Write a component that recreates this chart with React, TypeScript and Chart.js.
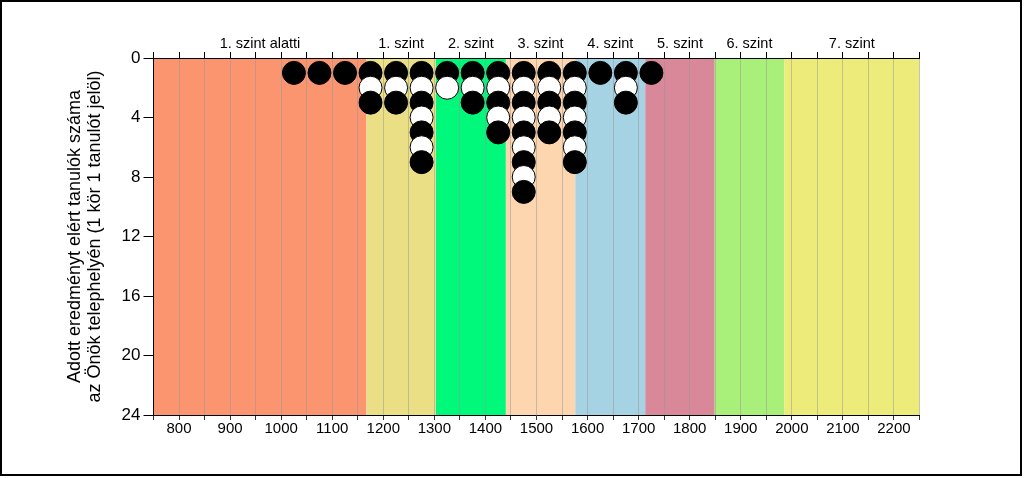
import React, { useEffect, useRef } from "react";
import { Chart, registerables } from "chart.js";

Chart.register(...registerables);

// ---- data ----
const bandEdges = [750, 1167, 1303, 1440, 1576, 1713, 1849, 1985, 2250];
const bandLabels = [
  "1. szint alatti",
  "1. szint",
  "2. szint",
  "3. szint",
  "4. szint",
  "5. szint",
  "6. szint",
  "7. szint",
];
const binCenters = [1025, 1075, 1125, 1175, 1225, 1275, 1325, 1375, 1425, 1475, 1525, 1575, 1625, 1675, 1725];
const studentCounts = [1, 1, 1, 3, 3, 7, 2, 3, 5, 9, 5, 7, 1, 3, 1];
const yTitle = ["Adott eredményt elért tanulók száma", "az Önök telephelyén (1 kör 1 tanulót jelöl)"];

// ---- styles ----
const bandColors = ["#FA9570", "#EADF85", "#00F97A", "#FDD5AE", "#A6D3E3", "#D9889A", "#A8F07A", "#EDEC7A"];
const FONT = "Arial, 'Liberation Sans', sans-serif";

const bandsPlugin = {
  id: "bands",
  beforeDraw(chart: any) {
    const { ctx, chartArea, scales } = chart;
    const xs = scales.x;
    ctx.save();
    for (let i = 0; i < bandColors.length; i++) {
      const x0 = xs.getPixelForValue(bandEdges[i]);
      const x1 = xs.getPixelForValue(bandEdges[i + 1]);
      ctx.fillStyle = bandColors[i];
      ctx.fillRect(x0, chartArea.top, x1 - x0, chartArea.bottom - chartArea.top);
    }
    ctx.restore();
  },
  afterDraw(chart: any) {
    const { ctx, chartArea, scales } = chart;
    const xs = scales.x;
    ctx.save();
    ctx.fillStyle = "#000";
    ctx.font = `14.5px ${FONT}`;
    ctx.textAlign = "center";
    ctx.textBaseline = "middle";
    for (let i = 0; i < bandLabels.length; i++) {
      const mid = (bandEdges[i] + bandEdges[i + 1]) / 2;
      ctx.fillText(bandLabels[i], xs.getPixelForValue(mid), chartArea.top - 14);
    }
    ctx.restore();
  },
};

export default function App() {
  const ref = useRef<HTMLCanvasElement | null>(null);

  useEffect(() => {
    document.body.style.margin = "0";
    const points: { x: number; y: number }[] = [];
    const fills: string[] = [];
    binCenters.forEach((x, i) => {
      for (let k = 1; k <= studentCounts[i]; k++) {
        points.push({ x, y: k });
        fills.push(k % 2 === 1 ? "#000000" : "#FFFFFF");
      }
    });

    const chart = new Chart(ref.current as HTMLCanvasElement, {
      type: "scatter",
      data: {
        datasets: [
          {
            data: points,
            backgroundColor: fills,
            borderColor: "#000000",
            borderWidth: 1,
            pointRadius: 11.5,
            pointHoverRadius: 11.5,
            clip: false as any,
          },
        ],
      },
      plugins: [bandsPlugin],
      options: {
        animation: false,
        responsive: false,
        events: [],
        layout: { padding: { left: 0, right: 100.5, top: 0, bottom: 0 } },
        plugins: { legend: { display: false }, tooltip: { enabled: false } },
        scales: {
          x: {
            type: "linear",
            position: "bottom",
            min: 750,
            max: 2250,
            afterFit: (s: any) => {
              s.height = 59;
            },
            ticks: {
              stepSize: 50,
              autoSkip: false,
              maxRotation: 0,
              padding: 0,
              color: "#000",
              font: { family: FONT, size: 15 },
              callback: (v: any) => (Number(v) % 100 === 0 ? String(v) : ""),
            },
            grid: {
              color: "rgba(150,150,150,0.5)",
              lineWidth: 1,
              tickColor: "#333",
              tickLength: 5,
            },
            border: { color: "#000", width: 1 },
          },
          x2: {
            type: "linear",
            position: "top",
            min: 750,
            max: 2250,
            afterFit: (s: any) => {
              s.height = 56;
            },
            ticks: {
              stepSize: 50,
              autoSkip: false,
              maxRotation: 0,
              callback: () => "",
            },
            grid: { drawOnChartArea: false, tickColor: "#000", tickLength: 6 },
            border: { color: "#000", width: 1 },
          },
          y: {
            type: "linear",
            position: "left",
            min: 0,
            max: 24,
            reverse: true,
            afterFit: (s: any) => {
              s.width = 151.5;
            },
            ticks: {
              stepSize: 4,
              padding: 3,
              color: "#000",
              font: { family: FONT, size: 17 },
            },
            grid: { drawOnChartArea: false, tickColor: "#000", tickLength: 10 },
            border: { color: "#000", width: 1 },
            title: {
              display: true,
              text: yTitle,
              color: "#000",
              font: { family: FONT, size: 18, lineHeight: 1.1 },
              padding: { top: 63, bottom: 0 },
            },
          },
        },
      },
    });
    return () => chart.destroy();
  }, []);

  return (
    <div
      style={{
        width: 1022,
        height: 476,
        boxSizing: "border-box",
        border: "2px solid #000",
        background: "#fff",
        position: "relative",
      }}
    >
      <canvas ref={ref} width={1018} height={472} style={{ display: "block", width: 1018, height: 472 }} />
    </div>
  );
}
